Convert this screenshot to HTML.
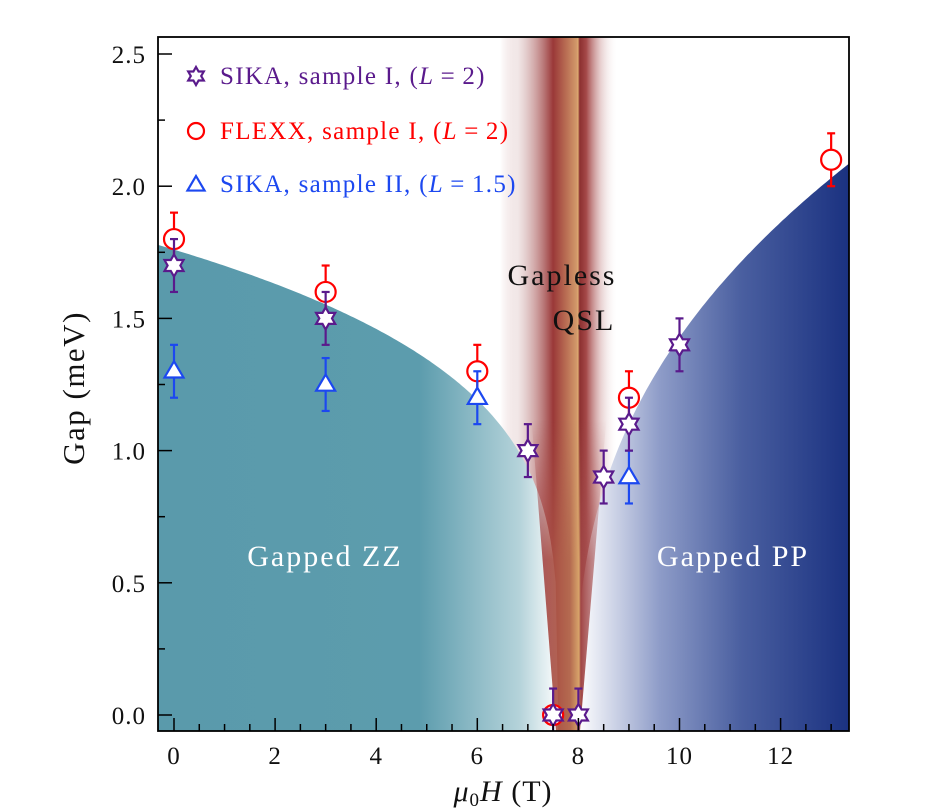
<!DOCTYPE html>
<html><head><meta charset="utf-8"><style>
html,body{margin:0;padding:0;background:#fff;}
svg{display:block;font-family:"Liberation Serif","DejaVu Serif",serif;}
</style></head><body>
<svg id="chart" width="931" height="809" viewBox="0 0 931 809">
<defs>
<linearGradient id="gZZ" x1="158" x2="560" y1="0" y2="0" gradientUnits="userSpaceOnUse">
<stop offset="0" stop-color="#5a9aab"/><stop offset="0.65" stop-color="#5c9cad"/><stop offset="0.9" stop-color="#b5d3da"/><stop offset="1" stop-color="#ffffff"/>
</linearGradient>
<linearGradient id="gPP" x1="578" x2="850" y1="0" y2="0" gradientUnits="userSpaceOnUse">
<stop offset="0" stop-color="#ffffff"/><stop offset="0.3" stop-color="#8e9cc8"/><stop offset="0.6" stop-color="#4a5fa0"/><stop offset="1" stop-color="#1a3180"/>
</linearGradient>
<linearGradient id="gBand" x1="500" x2="618" y1="0" y2="0" gradientUnits="userSpaceOnUse">
<stop offset="0" stop-color="#9b3535" stop-opacity="0"/>
<stop offset="0.15" stop-color="#c8a0a0" stop-opacity="0.25"/>
<stop offset="0.3" stop-color="#b06868" stop-opacity="0.6"/>
<stop offset="0.45" stop-color="#9a3838"/>
<stop offset="0.65" stop-color="#d2996a"/>
<stop offset="0.66" stop-color="#dcaa70"/>
<stop offset="0.675" stop-color="#8c3030"/>
<stop offset="0.73" stop-color="#a44848"/>
<stop offset="0.85" stop-color="#c89090" stop-opacity="0.45"/>
<stop offset="1" stop-color="#ffffff" stop-opacity="0"/>
</linearGradient>
<linearGradient id="gWedge" x1="540" x2="600" y1="0" y2="0" gradientUnits="userSpaceOnUse">
<stop offset="0" stop-color="#a03c3c" stop-opacity="0.85"/><stop offset="0.5" stop-color="#b46a50"/><stop offset="0.65" stop-color="#d8a46a"/><stop offset="0.68" stop-color="#a04545"/><stop offset="1" stop-color="#b06060" stop-opacity="0.5"/>
</linearGradient>
<linearGradient id="gFade" x1="0" x2="0" y1="420" y2="560" gradientUnits="userSpaceOnUse">
<stop offset="0" stop-color="#fff" stop-opacity="0"/><stop offset="1" stop-color="#fff" stop-opacity="1"/>
</linearGradient>
<mask id="mFade" maskUnits="userSpaceOnUse" x="0" y="0" width="931" height="809"><rect x="0" y="0" width="931" height="809" fill="url(#gFade)"/></mask>
<clipPath id="clip"><rect x="158" y="37" width="691" height="694"/></clipPath>
</defs>
<g id="plot" clip-path="url(#clip)"></g>
<g id="axes"></g>
<g id="legend"></g>
</svg>
<script>
const sikaIH=[0,3,7,7.5,8,8.5,9,10];
const sikaIGap=[1.7,1.5,1.0,0,0,0.9,1.1,1.4];
const sikaIErr=[0.1,0.1,0.1,0.1,0.1,0.1,0.1,0.1];
const flexxH=[0,3,6,7.5,9,13];
const flexxGap=[1.8,1.6,1.3,0,1.2,2.1];
const flexxErr=[0.1,0.1,0.1,0,0.1,0.1];
const sikaIIH=[0,3,6,9];
const sikaIIGap=[1.3,1.25,1.2,0.9];
const sikaIIErr=[0.1,0.1,0.1,0.1];
const xTicks=[0,2,4,6,8,10,12];
const yTicks=[0.0,0.5,1.0,1.5,2.0,2.5];

const NS="http://www.w3.org/2000/svg";
const X=h=>174+h*50.55;
const Y=g=>715-g*264.4;
const L=158,R=849,T=37,B=731;
function mk(tag,attrs,parent){const e=document.createElementNS(NS,tag);for(const k in attrs)e.setAttribute(k,attrs[k]);parent.appendChild(e);return e;}
const plot=document.getElementById('plot'),axes=document.getElementById('axes'),leg=document.getElementById('legend');

let band=mk('rect',{x:500,y:T,width:118,height:B-T,fill:'url(#gBand)'},plot);


let d='M'+L+','+B;
for(let h=-0.35;h<=7.6;h+=0.05){const g=1.76*Math.pow(Math.max(0,1-h/7.6),0.25);d+=' L'+X(h).toFixed(1)+','+Y(g).toFixed(1);}
d+=' L'+X(7.6)+','+B+' Z';
let zz=mk('path',{d:d,fill:'url(#gZZ)'},plot);


d='M'+X(7.95)+','+B;
for(let h=7.95;h<=13.5;h+=0.05){const g=1.08*Math.pow(Math.max(0,h-7.95),0.39);d+=' L'+X(h).toFixed(1)+','+Y(g).toFixed(1);}
d+=' L'+R+','+B+' Z';
let pp=mk('path',{d:d,fill:'url(#gPP)'},plot);


let w=mk('path',{d:'M530,400 L556,731 L580,731 L608,400 Z',fill:'url(#gWedge)',mask:'url(#mFade)'},plot);


function txt(x,y,s,attrs,parent,name){const e=mk('text',Object.assign({x:x,y:y},attrs),parent);e.textContent=s;return e;}
txt(325,566,'Gapped ZZ',{'font-size':30,'letter-spacing':2,fill:'#fff','text-anchor':'middle'},plot,'gapped-zz-label');
txt(733,566,'Gapped PP',{'font-size':30,'letter-spacing':2,fill:'#fff','text-anchor':'middle'},plot,'gapped-pp-label');
txt(562,285,'Gapless',{'font-size':30,'letter-spacing':2,fill:'#111','text-anchor':'middle'},plot,'gapless-label');
txt(584,330,'QSL',{'font-size':30,'letter-spacing':2,fill:'#111','text-anchor':'middle'},plot,'qsl-label');

function star(cx,cy,r,col,parent){let p='';for(let i=0;i<12;i++){const a=-Math.PI/2+i*Math.PI/6;const rr=i%2?r*0.58:r;p+=(i?'L':'M')+(cx+rr*Math.cos(a)).toFixed(1)+','+(cy+rr*Math.sin(a)).toFixed(1);}return mk('path',{d:p+'Z',fill:'#fff',stroke:col,'stroke-width':2.2},parent);}
function tri(cx,cy,r,col,parent){return mk('path',{d:`M${cx},${cy-r}L${cx+r*0.95},${cy+r*0.62}L${cx-r*0.95},${cy+r*0.62}Z`,fill:'#fff',stroke:col,'stroke-width':2.2},parent);}
function errbar(x,g,e,col,parent){const y1=Y(g+e),y2=Y(g-e);mk('line',{x1:x,x2:x,y1:y1,y2:y2,stroke:col,'stroke-width':2.2},parent);mk('line',{x1:x-4,x2:x+4,y1:y1,y2:y1,stroke:col,'stroke-width':2.2},parent);mk('line',{x1:x-4,x2:x+4,y1:y2,y2:y2,stroke:col,'stroke-width':2.2},parent);}
const gR=mk('g',{},plot);
flexxH.forEach((h,i)=>{const cx=X(h),cy=Y(flexxGap[i]);if(flexxErr[i])errbar(cx,flexxGap[i],flexxErr[i],'#f00',gR);const c=mk('circle',{cx:cx,cy:cy,r:10,fill:'#fff',stroke:'#f00','stroke-width':2.2},gR);});
const gB=mk('g',{},plot);
sikaIIH.forEach((h,i)=>{const cx=X(h),cy=Y(sikaIIGap[i]);errbar(cx,sikaIIGap[i],sikaIIErr[i],'#1c48f0',gB);const t=tri(cx,cy,10,'#1c48f0',gB);});
const gP=mk('g',{},plot);
sikaIH.forEach((h,i)=>{const cx=X(h),cy=Y(sikaIGap[i]);errbar(cx,sikaIGap[i],sikaIErr[i],'#5a1a8c',gP);const s=star(cx,cy,11,'#5a1a8c',gP);});

let fr=mk('rect',{x:L,y:T,width:R-L,height:B-T,fill:'none',stroke:'#000','stroke-width':1.8},axes);

for(let h=0;h<=13.3;h+=0.5){const big=Math.abs(h/2-Math.round(h/2))<1e-6;mk('line',{x1:X(h),x2:X(h),y1:B,y2:B-(big?13:7),stroke:'#000','stroke-width':1.5},axes);}
for(let g=0;g<=2.5;g+=0.25){const big=Math.abs(g*2-Math.round(g*2))<1e-6;mk('line',{x1:L,x2:L+(big?14:7),y1:Y(g),y2:Y(g),stroke:'#000','stroke-width':1.5},axes);}
xTicks.forEach(h=>txt(X(h),764,String(h),{'font-size':25,'letter-spacing':1,'text-anchor':'middle',fill:'#111'},axes,'x-tick-label'));
yTicks.forEach(g=>txt(146,Y(g)+9,g.toFixed(1),{'font-size':25,'letter-spacing':1,'text-anchor':'end',fill:'#111'},axes,'y-tick-label'));
const xt=mk('text',{x:503,y:801,'font-size':30,'letter-spacing':1,'text-anchor':'middle',fill:'#111'},axes);
xt.innerHTML='<tspan font-style="italic">μ</tspan><tspan font-size="19" dy="5">0</tspan><tspan font-style="italic" dy="-5">H</tspan> (T)';

txt(0,0,'Gap (meV)',{'font-size':31,'letter-spacing':1.5,'text-anchor':'middle',fill:'#111',transform:'translate(84,388) rotate(-90)'},axes,'y-axis-title');

const lg=[['SIKA, sample I, (','L','\u2009=\u20092)','#5a1a8c','s',76],['FLEXX, sample I, (','L','\u2009=\u20092)','#f00','c',131],['SIKA, sample II, (','L','\u2009=\u20091.5)','#1c48f0','t',184]];
lg.forEach(e=>{const g=mk('g',{},leg);
 const cx=196,cy=e[5];
 if(e[4]=='s')star(cx,cy,9,e[3],g);else if(e[4]=='c')mk('circle',{cx:cx,cy:cy,r:8,fill:'#fff',stroke:e[3],'stroke-width':2.2},g);else tri(cx,cy+1,9,e[3],g);
 const t=mk('text',{x:220,y:cy+8,'font-size':25,'letter-spacing':1.3,fill:e[3]},g);t.innerHTML=e[0]+'<tspan font-style="italic">'+e[1]+'</tspan>'+e[2];});
</script>
</body></html>
